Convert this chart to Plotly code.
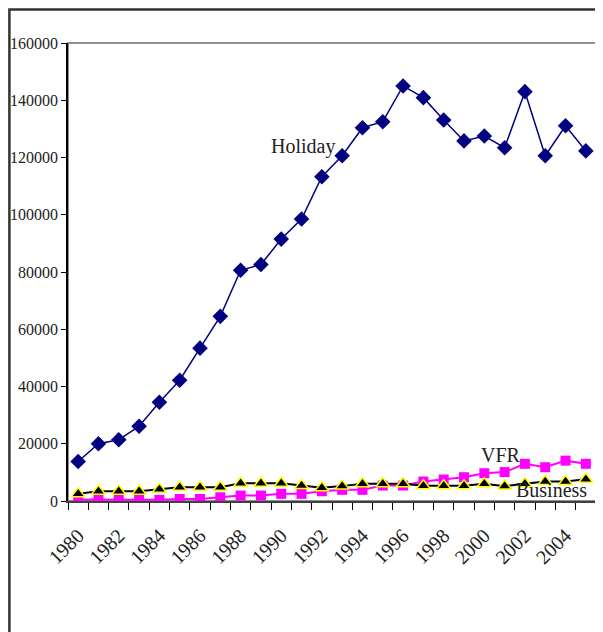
import plotly.graph_objects as go

years = list(range(1980, 2006))
holiday = [13800, 20000, 21400, 26100, 34500, 42200, 53400, 64500, 80600, 82600,
           91500, 98500, 113300, 120600, 130400, 132500, 145000, 140900, 133100, 125800,
           127500, 123400, 143000, 120600, 131100, 122300]
vfr = [500, 400, 400, 400, 400, 700, 700, 1300, 1900, 1900,
       2500, 2500, 3400, 3900, 3900, 5400, 5400, 6800, 7500, 8300,
       9700, 10100, 13000, 11800, 14100, 13000]
business = [2500, 3400, 3400, 3400, 4100, 4800, 4800, 4800, 6200, 6200,
            6200, 5400, 4600, 5200, 6000, 6000, 6000, 5300, 5300, 5300,
            6000, 5200, 6000, 6800, 6800, 7600]
label_years = list(range(1980, 2005, 2))
y_ticks = list(range(0, 160001, 20000))

serif = "Liberation Serif"

fig = go.Figure()
fig.add_trace(go.Scatter(x=years, y=holiday, name="Holiday", mode="lines+markers",
                         line=dict(color="#000080", width=1.5),
                         marker=dict(symbol="diamond", size=12, color="#000080")))
fig.add_trace(go.Scatter(x=years, y=vfr, name="VFR", mode="lines+markers",
                         line=dict(color="#FF00FF", width=2),
                         marker=dict(symbol="square", size=10, color="#FF00FF")))
fig.add_trace(go.Scatter(x=years, y=business, name="Business", mode="lines+markers",
                         line=dict(color="#000000", width=2),
                         marker=dict(symbol="triangle-up", size=12, color="#000000",
                                     line=dict(color="#FFFF00", width=1.5))))

fig.add_annotation(x=1991.05, y=123700, text="Holiday", showarrow=False,
                   font=dict(family=serif, size=20, color="#222"))
fig.add_annotation(x=2000.8, y=16100, text="VFR", showarrow=False,
                   font=dict(family=serif, size=20, color="#222"))
fig.add_annotation(x=2003.3, y=3800, text="Business", showarrow=False,
                   font=dict(family=serif, size=20, color="#222"))

# plot area border (gray) and outer frame
fig.add_shape(type="rect", xref="paper", yref="paper", x0=0, x1=1, y0=0, y1=1,
              line=dict(color="#909090", width=2), layer="below")
fig.add_shape(type="rect", xref="paper", yref="paper", x0=-0.111, x1=1.03, y0=-0.35, y1=1.073,
              line=dict(color="#333333", width=2.5), layer="below")

fig.update_layout(
    width=595, height=624,
    margin=dict(l=60, r=7, t=35, b=131, autoexpand=False),
    paper_bgcolor="white", plot_bgcolor="white",
    showlegend=False,
    font=dict(family=serif, size=16, color="#222"),
    xaxis=dict(
        range=[1979.5, 2005.5], automargin=False,
        tickmode="array", tickvals=label_years, ticktext=[str(y) for y in label_years],
        ticks="", tickangle=-45, ticklabelstandoff=13,
        tickfont=dict(family=serif, size=20, color="#222"),
        showline=True, linecolor="#404040", linewidth=2,
        showgrid=False, zeroline=False,
        minor=dict(tickmode="linear", tick0=1979.5, dtick=1, ticks="outside",
                   ticklen=7, tickcolor="#000", tickwidth=1, showgrid=False),
    ),
    yaxis=dict(
        range=[0, 160000], automargin=False,
        tickmode="array", tickvals=y_ticks,
        ticktext=[str(v) for v in y_ticks],
        ticks="outside", ticklen=5, tickcolor="#000",
        tickfont=dict(family=serif, size=16, color="#222"),
        showline=True, linecolor="#000", linewidth=1.5,
        showgrid=False, zeroline=False,
    ),
)

fig.write_html("out.html")
